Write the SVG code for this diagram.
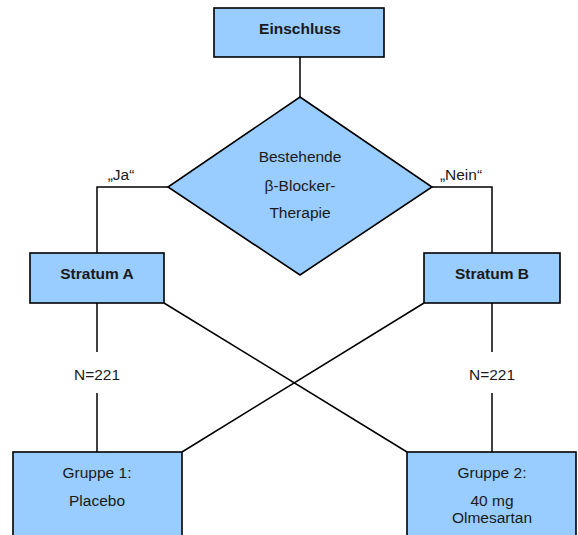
<svg xmlns="http://www.w3.org/2000/svg" width="578" height="535" viewBox="0 0 578 535">
<style>
.box{fill:#99CCFF;stroke:#000;stroke-width:1.6}
.ln{fill:none;stroke:#000;stroke-width:1.5}
text{font-family:"Liberation Sans",Arial,sans-serif;font-size:15.5px;fill:#1a1a1a;text-anchor:middle}
.b{font-weight:bold}
</style>
<rect width="578" height="535" fill="#fff"/>
<g id="connectors">
<line class="ln" x1="300" y1="57" x2="300" y2="97"/>
<polyline class="ln" points="168,187 97,187 97,253"/>
<polyline class="ln" points="432,187 492,187 492,253"/>
<line class="ln" x1="97" y1="303" x2="97" y2="352"/>
<line class="ln" x1="97" y1="393" x2="97" y2="452"/>
<line class="ln" x1="492" y1="303" x2="492" y2="352"/>
<line class="ln" x1="492" y1="393" x2="492" y2="452"/>
<line class="ln" x1="164" y1="303" x2="407" y2="452"/>
<line class="ln" x1="424" y1="303" x2="182" y2="452"/>
<text x="121" y="180">„Ja“</text>
<text x="461" y="180">„Nein“</text>
<text x="97" y="380">N=221</text>
<text x="492" y="380">N=221</text>
</g>
<g id="einschluss">
<rect class="box" x="214" y="8" width="170" height="49"/>
<text class="b" x="300" y="34">Einschluss</text>
</g>
<g id="entscheidung">
<polygon class="box" points="300,97 432,187 300,275 168,187"/>
<text x="300" y="162">Bestehende</text>
<text x="300" y="191">β-Blocker-</text>
<text x="300" y="218">Therapie</text>
</g>
<g id="stratumA">
<rect class="box" x="30" y="253" width="134" height="50"/>
<text class="b" x="97" y="279">Stratum A</text>
</g>
<g id="stratumB">
<rect class="box" x="424" y="253" width="136" height="50"/>
<text class="b" x="492" y="279">Stratum B</text>
</g>
<g id="gruppe1">
<rect class="box" x="13" y="452" width="169" height="90"/>
<text x="97" y="478">Gruppe 1:</text>
<text x="97" y="506">Placebo</text>
</g>
<g id="gruppe2">
<rect class="box" x="407" y="452" width="169" height="90"/>
<text x="492" y="478">Gruppe 2:</text>
<text x="492" y="506">40 mg</text>
<text x="492" y="523">Olmesartan</text>
</g>
</svg>
